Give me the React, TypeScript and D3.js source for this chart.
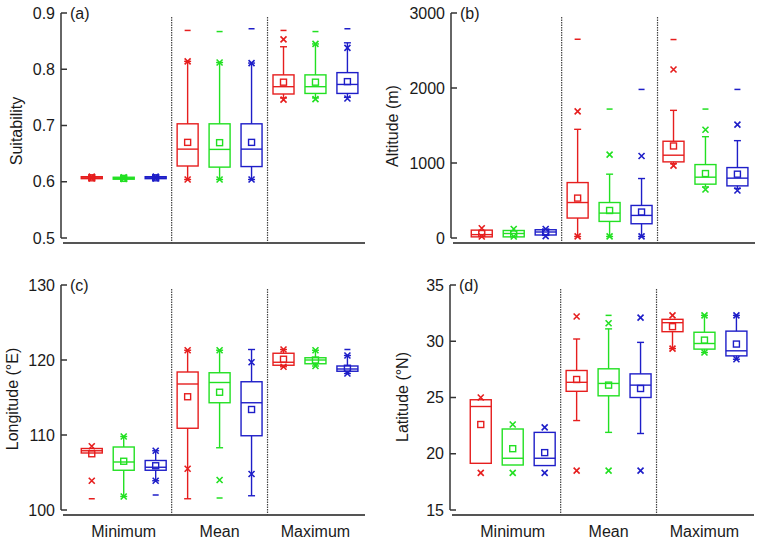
import React from "react";
import * as d3 from "d3";

type Box = { lo: number; q1: number; med: number; q3: number; hi: number; mean: number; xlo: number; xhi: number; dlo?: number; dhi?: number };

const groups = ["Minimum", "Mean", "Maximum"];
const seriesColors = ["#e61e1e", "#22e022", "#1e1ec8"];

const suitability: Box[] = [
  { lo: 0.6055, q1: 0.6055, med: 0.607, q3: 0.609, hi: 0.609, mean: 0.607, xlo: 0.606, xhi: 0.609 },
  { lo: 0.6045, q1: 0.6045, med: 0.606, q3: 0.608, hi: 0.608, mean: 0.606, xlo: 0.605, xhi: 0.608 },
  { lo: 0.6055, q1: 0.6055, med: 0.607, q3: 0.609, hi: 0.609, mean: 0.607, xlo: 0.606, xhi: 0.609 },
  { lo: 0.604, q1: 0.628, med: 0.658, q3: 0.703, hi: 0.814, mean: 0.67, xlo: 0.604, xhi: 0.814, dhi: 0.869 },
  { lo: 0.604, q1: 0.626, med: 0.6575, q3: 0.703, hi: 0.812, mean: 0.6695, xlo: 0.604, xhi: 0.812, dhi: 0.867 },
  { lo: 0.604, q1: 0.627, med: 0.658, q3: 0.703, hi: 0.811, mean: 0.67, xlo: 0.604, xhi: 0.811, dhi: 0.872 },
  { lo: 0.749, q1: 0.756, med: 0.769, q3: 0.79, hi: 0.84, mean: 0.777, xlo: 0.746, xhi: 0.853, dhi: 0.869 },
  { lo: 0.749, q1: 0.757, med: 0.769, q3: 0.79, hi: 0.845, mean: 0.777, xlo: 0.747, xhi: 0.845, dhi: 0.867 },
  { lo: 0.75, q1: 0.757, med: 0.773, q3: 0.794, hi: 0.847, mean: 0.778, xlo: 0.748, xhi: 0.838, dhi: 0.872 },
];

const altitude: Box[] = [
  { lo: 15, q1: 15, med: 45, q3: 105, hi: 105, mean: 60, xlo: 20, xhi: 130 },
  { lo: 15, q1: 15, med: 60, q3: 100, hi: 100, mean: 55, xlo: 20, xhi: 120 },
  { lo: 35, q1: 40, med: 80, q3: 110, hi: 110, mean: 80, xlo: 25, xhi: 120 },
  { lo: 20, q1: 266, med: 473, q3: 739, hi: 1449, mean: 532, xlo: 21, xhi: 1689, dhi: 2650 },
  { lo: 20, q1: 221, med: 332, q3: 473, hi: 851, mean: 367, xlo: 21, xhi: 1112, dhi: 1719 },
  { lo: 20, q1: 190, med: 301, q3: 434, hi: 793, mean: 346, xlo: 21, xhi: 1094, dhi: 1981 },
  { lo: 990, q1: 1015, med: 1104, q3: 1290, hi: 1702, mean: 1227, xlo: 965, xhi: 2247, dhi: 2646 },
  { lo: 680, q1: 718, med: 811, q3: 979, hi: 1351, mean: 859, xlo: 646, xhi: 1444, dhi: 1719 },
  { lo: 660, q1: 695, med: 798, q3: 939, hi: 1298, mean: 851, xlo: 633, xhi: 1511, dhi: 1981 },
];

const longitude: Box[] = [
  { lo: 107.6, q1: 107.6, med: 107.9, q3: 108.2, hi: 108.2, mean: 107.5, xlo: 103.9, xhi: 108.5, dlo: 101.5 },
  { lo: 101.8, q1: 105.3, med: 106.4, q3: 108.4, hi: 109.8, mean: 106.5, xlo: 101.8, xhi: 109.8 },
  { lo: 103.9, q1: 105.3, med: 105.7, q3: 106.6, hi: 107.9, mean: 105.9, xlo: 103.9, xhi: 107.9, dlo: 102.0 },
  { lo: 101.5, q1: 110.9, med: 116.8, q3: 118.4, hi: 121.3, mean: 115.1, xlo: 105.5, xhi: 121.3 },
  { lo: 108.3, q1: 114.3, med: 117.0, q3: 118.3, hi: 121.3, mean: 115.7, xlo: 104.0, xhi: 121.3, dlo: 101.6 },
  { lo: 101.9, q1: 109.9, med: 114.3, q3: 117.1, hi: 121.4, mean: 113.4, xlo: 104.8, xhi: 119.7 },
  { lo: 119.1, q1: 119.3, med: 119.7, q3: 120.9, hi: 121.4, mean: 120.1, xlo: 119.1, xhi: 121.4 },
  { lo: 119.2, q1: 119.5, med: 120.0, q3: 120.3, hi: 121.3, mean: 120.0, xlo: 119.2, xhi: 121.3 },
  { lo: 118.2, q1: 118.5, med: 118.8, q3: 119.2, hi: 120.6, mean: 118.9, xlo: 118.2, xhi: 120.6, dhi: 121.4 },
];

const latitude: Box[] = [
  { lo: 19.15, q1: 19.15, med: 24.2, q3: 24.8, hi: 24.8, mean: 22.6, xlo: 18.3, xhi: 25.0 },
  { lo: 19.0, q1: 19.0, med: 19.6, q3: 22.2, hi: 22.2, mean: 20.45, xlo: 18.3, xhi: 22.6 },
  { lo: 18.95, q1: 18.95, med: 19.6, q3: 21.9, hi: 21.9, mean: 20.1, xlo: 18.3, xhi: 22.35 },
  { lo: 22.95, q1: 25.55, med: 26.35, q3: 27.4, hi: 30.2, mean: 26.6, xlo: 18.5, xhi: 32.2 },
  { lo: 21.9, q1: 25.15, med: 26.25, q3: 27.55, hi: 31.1, mean: 26.1, xlo: 18.5, xhi: 31.6, dhi: 32.3 },
  { lo: 21.8, q1: 25.0, med: 26.1, q3: 27.1, hi: 29.9, mean: 25.8, xlo: 18.5, xhi: 32.1 },
  { lo: 29.35, q1: 30.85, med: 31.65, q3: 31.95, hi: 31.95, mean: 31.3, xlo: 29.35, xhi: 32.3 },
  { lo: 29.0, q1: 29.3, med: 29.8, q3: 30.8, hi: 32.3, mean: 30.1, xlo: 29.0, xhi: 32.3 },
  { lo: 28.4, q1: 28.7, med: 29.15, q3: 30.9, hi: 32.3, mean: 29.75, xlo: 28.4, xhi: 32.3 },
];

const suitTicks = [0.5, 0.6, 0.7, 0.8, 0.9];
const altTicks = [0, 1000, 2000, 3000];
const lonTicks = [100, 110, 120, 130];
const latTicks = [15, 20, 25, 30, 35];

type Panel = {
  data: Box[]; domain: [number, number]; ticks: number[]; fmt: (v: number) => string;
  yLabel: string; letter: string; dx: number; top: number; bottom: number; axisY: number;
  labelX: number; labelY: number; showCats: boolean;
};

const panels: Panel[] = [
  { data: suitability, domain: [0.5, 0.9], ticks: suitTicks, fmt: d3.format(".1f"), yLabel: "Suitability", letter: "(a)", dx: 0, top: 13, bottom: 238, axisY: 243, labelX: 16, labelY: 131, showCats: false },
  { data: altitude, domain: [0, 3000], ticks: altTicks, fmt: d3.format("d"), yLabel: "Altitude (m)", letter: "(b)", dx: 390, top: 13, bottom: 238, axisY: 243, labelX: 392, labelY: 126, showCats: false },
  { data: longitude, domain: [100, 130], ticks: lonTicks, fmt: d3.format("d"), yLabel: "Longitude (°E)", letter: "(c)", dx: 0, top: 285, bottom: 510, axisY: 515, labelX: 12, labelY: 399, showCats: true },
  { data: latitude, domain: [15, 35], ticks: latTicks, fmt: d3.format("d"), yLabel: "Latitude (°N)", letter: "(d)", dx: 389, top: 285, bottom: 510, axisY: 515, labelX: 402, labelY: 397, showCats: true },
];

const FONT = "'Liberation Sans', Arial, sans-serif";

function PanelView({ p }: { p: Panel }) {
  const x = d3.scaleLinear().domain([0.1, 9.55]).range([63 + p.dx, 365 + p.dx]);
  const y = d3.scaleLinear().domain(p.domain).range([p.bottom, p.top]);
  const axisX = 61 + p.dx;
  const bw = 21;
  const cap = 3.5;
  const xs = 3;
  return (
    <g>
      <line x1={axisX} x2={axisX} y1={y(p.domain[0])} y2={y(p.domain[1])} stroke="#333" strokeWidth={1.5} />
      {p.ticks.map((t) => (
        <g key={t}>
          <line x1={axisX} x2={axisX + 6} y1={y(t)} y2={y(t)} stroke="#333" strokeWidth={1.5} />
          <text x={axisX - 6} y={y(t)} textAnchor="end" dominantBaseline="central" fontSize={16} fontFamily={FONT} fill="#1a1a1a">{p.fmt(t)}</text>
        </g>
      ))}
      <text x={axisX + 9} y={y(p.domain[1])} dominantBaseline="central" fontSize={16} fontFamily={FONT} fill="#1a1a1a">{p.letter}</text>
      <text transform={`translate(${p.labelX},${p.labelY}) rotate(-90)`} textAnchor="middle" dominantBaseline="central" fontSize={16} fontFamily={FONT} fill="#1a1a1a">{p.yLabel}</text>
      <line x1={x(0.1)} x2={x(9.55)} y1={p.axisY} y2={p.axisY} stroke="#555" strokeWidth={2} />
      {[3.5, 6.5].map((s) => (
        <line key={s} x1={x(s)} x2={x(s)} y1={p.top + 4} y2={p.axisY} stroke="#444" strokeWidth={1.2} strokeDasharray="1.5,1" />
      ))}
      {p.showCats && groups.map((g, i) => (
        <text key={g} x={x(2 + i * 3)} y={p.axisY + 16} textAnchor="middle" dominantBaseline="central" fontSize={16} fontFamily={FONT} fill="#1a1a1a">{g}</text>
      ))}
      {p.data.map((b, i) => {
        const cx = x(i + 1);
        const c = seriesColors[i % 3];
        const sw = 1.4;
        return (
          <g key={i} stroke={c} strokeWidth={sw} fill="none">
            {b.hi > b.q3 && (
              <>
                <line x1={cx} x2={cx} y1={y(b.q3)} y2={y(b.hi)} />
                <line x1={cx - cap} x2={cx + cap} y1={y(b.hi)} y2={y(b.hi)} />
              </>
            )}
            {b.lo < b.q1 && (
              <>
                <line x1={cx} x2={cx} y1={y(b.q1)} y2={y(b.lo)} />
                <line x1={cx - cap} x2={cx + cap} y1={y(b.lo)} y2={y(b.lo)} />
              </>
            )}
            <rect x={cx - bw / 2} y={y(b.q3)} width={bw} height={Math.max(0.5, y(b.q1) - y(b.q3))} />
            <line x1={cx - bw / 2} x2={cx + bw / 2} y1={y(b.med)} y2={y(b.med)} />
            <rect x={cx - 3} y={y(b.mean) - 3} width={6} height={6} />
            {[b.xlo, b.xhi].map((v, k) => (
              <path key={k} d={`M${cx - xs},${y(v) - xs}L${cx + xs},${y(v) + xs}M${cx - xs},${y(v) + xs}L${cx + xs},${y(v) - xs}`} strokeWidth={1.6} />
            ))}
            {[b.dlo, b.dhi].filter((v) => v !== undefined).map((v, k) => (
              <line key={"d" + k} x1={cx - 3} x2={cx + 3} y1={y(v as number)} y2={y(v as number)} strokeWidth={1.5} />
            ))}
          </g>
        );
      })}
    </g>
  );
}

export default function App() {
  return (
    <svg width={759} height={541} style={{ position: "absolute", left: 0, top: 0, background: "#fff" }}>
      <rect width={759} height={541} fill="#fff" />
      {panels.map((p) => (
        <PanelView key={p.letter} p={p} />
      ))}
    </svg>
  );
}
